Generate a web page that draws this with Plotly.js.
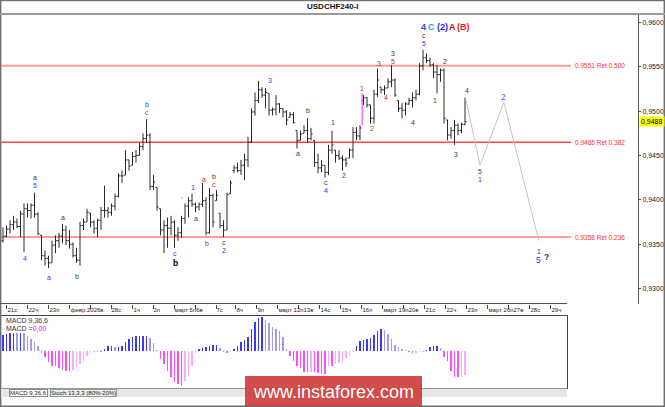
<!DOCTYPE html>
<html><head><meta charset="utf-8">
<script src="https://cdn.plot.ly/plotly-3.0.1.min.js"></script>
<style>html,body{margin:0;padding:0;background:#fff}#chart{width:665px;height:407px}</style>
</head><body><div id="chart"></div>
<script>
// ---------- DATA ----------
const opens=[0.9354,0.9359,0.9367,0.9372,0.9375,0.9370,0.9384,0.9390,0.9388,0.9394,
0.9384,0.9360,0.9337,0.9334,0.9329,0.9349,0.9354,0.9359,0.9366,0.9354,
0.9350,0.9337,0.9332,0.9371,0.9375,0.9385,0.9375,0.9368,0.9377,0.9388,
0.9388,0.9386,0.9393,0.9404,0.9427,0.9428,0.9445,0.9439,0.9449,0.9450,
0.9460,0.9469,0.9473,0.9415,0.9414,0.9390,0.9366,0.9371,0.9368,0.9375,
0.9360,0.9363,0.9379,0.9393,0.9399,0.9395,0.9392,0.9395,0.9399,0.9363,
0.9405,0.9399,0.9385,0.9371,0.9366,0.9407,0.9433,0.9436,0.9433,0.9439,
0.9445,0.9465,0.9499,0.9512,0.9524,0.9518,0.9520,0.9501,0.9502,0.9508,
0.9503,0.9499,0.9493,0.9496,0.9478,0.9467,0.9475,0.9478,0.9469,0.9467,
0.9442,0.9436,0.9439,0.9431,0.9456,0.9456,0.9450,0.9447,0.9445,0.9447,
0.9456,0.9476,0.9472,0.9512,0.9515,0.9507,0.9492,0.9519,0.9527,0.9524,
0.9526,0.9533,0.9535,0.9512,0.9503,0.9501,0.9508,0.9512,0.9515,0.9519,
0.9551,0.9560,0.9557,0.9552,0.9544,0.9541,0.9546,0.9490,0.9473,0.9478,
0.9484,0.9478,0.9485];
const highs=[0.9369,0.9371,0.9377,0.9382,0.9379,0.9388,0.9396,0.9396,0.9396,0.9408,
0.9386,0.9360,0.9343,0.9337,0.9354,0.9360,0.9363,0.9373,0.9371,0.9366,
0.9352,0.9346,0.9375,0.9379,0.9390,0.9385,0.9377,0.9379,0.9392,0.9416,
0.9392,0.9396,0.9407,0.9430,0.9433,0.9456,0.9445,0.9454,0.9456,0.9464,
0.9475,0.9491,0.9475,0.9428,0.9414,0.9390,0.9377,0.9380,0.9382,0.9377,
0.9369,0.9382,0.9396,0.9403,0.9407,0.9397,0.9397,0.9419,0.9403,0.9413,
0.9407,0.9411,0.9385,0.9377,0.9408,0.9422,0.9439,0.9442,0.9445,0.9452,
0.9471,0.9503,0.9521,0.9534,0.9527,0.9526,0.9520,0.9504,0.9518,0.9509,
0.9503,0.9501,0.9499,0.9499,0.9478,0.9478,0.9484,0.9492,0.9481,0.9467,
0.9452,0.9445,0.9439,0.9462,0.9478,0.9456,0.9456,0.9450,0.9448,0.9458,
0.9482,0.9482,0.9484,0.9518,0.9516,0.9507,0.9524,0.9548,0.9527,0.9529,
0.9537,0.9552,0.9537,0.9512,0.9509,0.9510,0.9515,0.9521,0.9524,0.9554,
0.9569,0.9565,0.9560,0.9554,0.9552,0.9548,0.9548,0.9490,0.9482,0.9490,
0.9486,0.9487,0.9515];
const lows=[0.9352,0.9358,0.9362,0.9366,0.9368,0.9358,0.9341,0.9380,0.9379,0.9380,
0.9360,0.9332,0.9326,0.9323,0.9329,0.9340,0.9346,0.9351,0.9349,0.9345,
0.9335,0.9329,0.9326,0.9366,0.9375,0.9369,0.9362,0.9358,0.9366,0.9380,
0.9380,0.9382,0.9388,0.9403,0.9419,0.9428,0.9433,0.9439,0.9442,0.9450,
0.9456,0.9464,0.9411,0.9411,0.9388,0.9360,0.9340,0.9346,0.9360,0.9346,
0.9354,0.9357,0.9373,0.9380,0.9392,0.9386,0.9388,0.9392,0.9360,0.9362,
0.9369,0.9399,0.9368,0.9358,0.9366,0.9407,0.9430,0.9431,0.9428,0.9422,
0.9437,0.9464,0.9495,0.9509,0.9515,0.9503,0.9495,0.9495,0.9495,0.9498,
0.9493,0.9484,0.9493,0.9486,0.9458,0.9467,0.9475,0.9464,0.9467,0.9437,
0.9430,0.9431,0.9425,0.9428,0.9452,0.9442,0.9445,0.9433,0.9437,0.9447,
0.9447,0.9467,0.9467,0.9507,0.9504,0.9486,0.9486,0.9516,0.9520,0.9518,
0.9526,0.9527,0.9516,0.9499,0.9492,0.9495,0.9507,0.9504,0.9512,0.9518,
0.9546,0.9554,0.9550,0.9537,0.9520,0.9533,0.9486,0.9467,0.9469,0.9462,
0.9473,0.9475,0.9484];
const closes=[0.9359,0.9367,0.9372,0.9375,0.9370,0.9384,0.9390,0.9388,0.9394,0.9384,
0.9362,0.9337,0.9334,0.9329,0.9349,0.9354,0.9359,0.9366,0.9354,0.9350,
0.9337,0.9332,0.9371,0.9375,0.9386,0.9375,0.9368,0.9377,0.9388,0.9388,
0.9386,0.9393,0.9404,0.9427,0.9427,0.9445,0.9438,0.9449,0.9450,0.9460,
0.9469,0.9473,0.9415,0.9420,0.9392,0.9366,0.9371,0.9368,0.9375,0.9360,
0.9363,0.9379,0.9393,0.9399,0.9395,0.9392,0.9395,0.9399,0.9363,0.9405,
0.9375,0.9405,0.9371,0.9366,0.9406,0.9419,0.9436,0.9433,0.9439,0.9445,
0.9465,0.9499,0.9512,0.9524,0.9518,0.9521,0.9501,0.9502,0.9508,0.9503,
0.9499,0.9490,0.9496,0.9487,0.9467,0.9474,0.9478,0.9469,0.9474,0.9442,
0.9436,0.9439,0.9431,0.9456,0.9462,0.9450,0.9447,0.9445,0.9441,0.9456,
0.9476,0.9472,0.9481,0.9515,0.9507,0.9492,0.9519,0.9535,0.9524,0.9526,
0.9533,0.9535,0.9518,0.9503,0.9501,0.9508,0.9512,0.9515,0.9519,0.9551,
0.9560,0.9557,0.9552,0.9544,0.9541,0.9546,0.9492,0.9473,0.9478,0.9484,
0.9478,0.9485,0.9488];
const macdHist=[0.00048,0.00051,0.00054,0.00054,0.00053,0.00054,0.00053,0.00045,0.00035,0.00025,
0.00015,-0.00006,-0.00020,-0.00035,-0.00045,-0.00047,-0.00053,-0.00057,-0.00060,-0.00060,
-0.00057,-0.00050,-0.00040,-0.00030,-0.00017,-0.00007,-0.00003,-0.00005,-0.00005,0.00005,
0.00013,0.00013,0.00010,0.00010,0.00013,0.00025,0.00035,0.00042,0.00043,0.00043,
0.00044,0.00045,0.00037,0.00022,0.00002,-0.00025,-0.00040,-0.00060,-0.00080,-0.00093,
-0.00100,-0.00105,-0.00090,-0.00075,-0.00045,-0.00007,0.00005,0.00009,0.00012,0.00014,
0.00017,0.00017,0.00007,-0.00003,-0.00007,-0.00003,0.00005,0.00015,0.00027,0.00032,
0.00040,0.00065,0.00087,0.00099,0.00100,0.00093,0.00083,0.00070,0.00065,0.00058,
0.00040,0.00005,-0.00015,-0.00030,-0.00045,-0.00053,-0.00063,-0.00065,-0.00063,-0.00063,
-0.00067,-0.00070,-0.00070,-0.00047,-0.00047,-0.00040,-0.00038,-0.00033,-0.00023,-0.00015,
-0.00003,0.00015,0.00028,0.00033,0.00035,0.00037,0.00047,0.00060,0.00065,0.00061,
0.00050,0.00035,0.00017,0.00010,0.00005,0.00002,-0.00005,-0.00007,-0.00006,-0.00005,
-0.00003,0.00003,0.00010,0.00013,0.00013,0.00007,-0.00020,-0.00030,-0.00060,-0.00078,
-0.00080,-0.00078,-0.00072];
const dayTickIdx=[1.14,7.14,13.14,19.14,24.86,30.86,37.14,42.86,48.86,54.86,60.86,66.57,72.57,78.57,84.57,90.57,96.57,102.57,108.57,114.57,120.57,126.57,132.57,138.57,144.57,150.57,156.57];
const dayLabels=['21с','22ч','23п','февр.2026в','','28с','1ч','2п','март 5п6в','','7с','8ч','9п','март 12п13в','','14с','15ч','16п','март 19п20в','','21с','22ч','23п','март 26п27в','','28с','29ч'];
const priceTicks=[0.9300,0.9350,0.9400,0.9450,0.9500,0.9550,0.9600];
const priceTickText=['0,9300','0,9350','0,9400','0,9450','0,9500','0,9550','0,9600'];
const fibLevels=[0.9551,0.9465,0.9358];
const fibLabels=['0.9551 Ret 0.500','0.9465 Ret 0.382','0.9358 Ret 0.236'];
const forecastIdx=[132.3,136.3,143.1,153.1];
const forecastPrice=[0.9512,0.9439,0.9510,0.9354];
const markIdx=[102.6,102.6];
const markPrice=[0.9484,0.9520];
const lastPrice=0.9488;
const lastPriceText='0,9488';
const waveText=['b','c','3','b','a','5','4','a','a','b','1',"'",'a','a','b','c','b','c','2','c','b','a','c','4','1','2','1','2','3','4','3','5','4','c','5','2','1','4','3','2','5','1','1','5','?','4','C','(2)','A','(B)'];
const waveIdx=[41.1,41.1,76.3,87.1,9.1,9.1,6.3,13.1,17.1,21.1,54.3,51.1,55.1,57.4,60.3,60.3,58.3,63.1,63.1,49.1,49.4,84.3,92.3,92.3,94.3,97.4,102.6,105.4,107.4,109.4,111.4,111.4,117.1,120.3,120.3,126.3,123.4,132.6,129.4,143.1,136.3,136.3,153.1,153.1,155.4,120.1,122.4,125.5,128.5,131.6];
const wavePrice=[0.9507,0.9498,0.9534,0.9501,0.9425,0.9416,0.9334,0.9313,0.9380,0.9314,0.9414,0.9400,0.9379,0.9423,0.9426,0.9417,0.9351,0.9352,0.9343,0.9340,0.9329,0.9452,0.9420,0.9411,0.9487,0.9427,0.9526,0.9480,0.9554,0.9515,0.9565,0.9556,0.9487,0.9585,0.9576,0.9556,0.9512,0.9523,0.9451,0.9516,0.9432,0.9423,0.9342,0.9332,0.9336,0.9595,0.9595,0.9595,0.9595,0.9595];

// ---------- STYLE ----------
const BLUE='#3434ff', DARK='#3a3a3a', BROWN='#a8392a', GREY='#6a6a6a';
const waveColor=[BLUE,GREY,BLUE,DARK,DARK,BLUE,BLUE,BLUE,DARK,DARK,BLUE,BLUE,DARK,BROWN,DARK,BROWN,BROWN,DARK,BLUE,BLUE,'#000',DARK,DARK,BLUE,DARK,DARK,BROWN,BROWN,BROWN,BROWN,DARK,BROWN,DARK,DARK,BLUE,DARK,DARK,DARK,DARK,'#5c5cff',DARK,BLUE,DARK,BLUE,DARK,'#3434ff','#1aa8e0','#2626ff','#a02020','#e02828'];
const waveSize=waveText.map((t,k)=> k>=45 ? 9 : (k===20||k===39||k===43||k===44 ? 8.5 : 7));
const waveBold=waveText.map((t,k)=> k>=45 || k===20 || k===44);

const W=665,H=407;
const px=x=>x/W, py=y=>1-y/H;
const FONT='Liberation Sans, Arial, sans-serif';
const barIdx=opens.map((_,k)=>k);
const macdIdx=macdHist.map((_,k)=>k);
const macdColors=macdHist.map((v,k)=>{
  const p=k>0?macdHist[k-1]:v;
  if(v>=0) return v>=p ? '#3a3aff' : '#9c9cf0';
  return v<=p ? '#ff4cff' : '#ffa8ff';
});

const traces=[
 {type:'ohlc',x:barIdx,open:opens,high:highs,low:lows,close:closes,xaxis:'x',yaxis:'y',
  increasing:{line:{color:'#2a2a2a',width:1}},decreasing:{line:{color:'#2a2a2a',width:1}},
  tickwidth:0.45,hoverinfo:'skip',showlegend:false},
 {type:'scatter',mode:'lines',x:forecastIdx,y:forecastPrice,xaxis:'x',yaxis:'y',
  line:{color:'#c4c4c4',width:1},hoverinfo:'skip',showlegend:false},
 {type:'scatter',mode:'lines',x:markIdx,y:markPrice,xaxis:'x',yaxis:'y',
  line:{color:'#ff22ff',width:1},hoverinfo:'skip',showlegend:false},
 {type:'bar',x:macdIdx,y:macdHist,xaxis:'x2',yaxis:'y2',width:0.32,
  marker:{color:macdColors,line:{width:0}},hoverinfo:'skip',showlegend:false}
];

const shapes=[
 {type:'rect',xref:'paper',yref:'paper',x0:0.001,x1:0.999,y0:0.002,y1:0.999,line:{color:'#707070',width:1.5}},
 {type:'line',xref:'paper',yref:'paper',x0:0,x1:1,y0:py(14),y1:py(14),line:{color:'#9a9a9a',width:2}},
 {type:'line',xref:'paper',yref:'paper',x0:0,x1:px(567),y0:py(303.5),y1:py(303.5),line:{color:'#555',width:1}},
 {type:'rect',xref:'paper',yref:'paper',x0:px(1),x1:px(567),y0:py(397),y1:py(388.5),fillcolor:'#e6e6e6',line:{width:0}},
 {type:'rect',xref:'paper',yref:'paper',x0:px(245),x1:px(422),y0:py(406),y1:py(376),fillcolor:'rgba(206,58,58,0.9)',line:{width:0}}
];
const fibColors=['#ff9c9c','#ff4646','#ff9c9c'];
const fibWidths=[2,1.5,2];
fibLevels.forEach((lv,k)=>shapes.push({type:'line',xref:'paper',yref:'y',x0:0,x1:px(571),y0:lv,y1:lv,line:{color:fibColors[k],width:fibWidths[k]},layer:'below'}));

const annotations=[
 {text:'<b>USDCHF240-I</b>',xref:'paper',yref:'paper',x:0.5,y:py(6.5),showarrow:false,font:{family:FONT,size:8,color:'#111'},xanchor:'center',yanchor:'middle'},
 {text:lastPriceText,xref:'paper',yref:'y',x:px(638.5),y:lastPrice,showarrow:false,xanchor:'left',yanchor:'middle',bgcolor:'#ffff00',borderpad:1,font:{family:FONT,size:7,color:'#000'}},
 {text:'MACD 9,36,6',xref:'paper',yref:'paper',x:px(4),y:py(320.5),showarrow:false,xanchor:'left',yanchor:'middle',font:{family:FONT,size:7,color:'#333'}},
 {text:'MACD =<span style="color:#ff00ff">0,00</span>',xref:'paper',yref:'paper',x:px(4),y:py(328.5),showarrow:false,xanchor:'left',yanchor:'middle',font:{family:FONT,size:7,color:'#333'}},
 {text:'MACD 9,36,6',xref:'paper',yref:'paper',x:px(9),y:py(393),showarrow:false,xanchor:'left',yanchor:'middle',bgcolor:'#fff',bordercolor:'#888',borderwidth:1,borderpad:0,font:{family:FONT,size:6,color:'#222'}},
 {text:'Stoch 13,3,3 (80%-20%)',xref:'paper',yref:'paper',x:px(50),y:py(393),showarrow:false,xanchor:'left',yanchor:'middle',bgcolor:'#ececec',bordercolor:'#999',borderwidth:1,borderpad:0,font:{family:FONT,size:6,color:'#222'}},
 {text:'www.instaforex.com',xref:'paper',yref:'paper',x:px(333),y:py(391.5),showarrow:false,xanchor:'center',yanchor:'middle',font:{family:FONT,size:18,color:'#ffffff'}}
];
fibLevels.forEach((lv,k)=>annotations.push({text:fibLabels[k],xref:'paper',yref:'y',x:px(573),y:lv,showarrow:false,xanchor:'left',yanchor:'middle',font:{family:FONT,size:6.5,color:'#ff3030'}}));
waveText.forEach((t,k)=>annotations.push({text:waveBold[k]?'<b>'+t+'</b>':t,xref:'x',yref:'y',x:waveIdx[k],y:wavePrice[k],showarrow:false,xanchor:'center',yanchor:'middle',borderpad:0,font:{family:FONT,size:waveSize[k],color:waveColor[k]}}));

const layout={
 width:W,height:H,margin:{l:0,r:0,t:0,b:0},paper_bgcolor:'#fff',plot_bgcolor:'rgba(0,0,0,0)',
 showlegend:false,
 xaxis:{domain:[0,px(638)],range:[-0.857,181.43],anchor:'y',showgrid:false,zeroline:false,showline:false,
  rangeslider:{visible:false},tickmode:'array',tickvals:dayTickIdx,ticktext:dayLabels,ticks:'outside',ticklen:4,tickcolor:'#444',
  tickangle:0,ticklabelposition:'outside right',tickfont:{family:FONT,size:6,color:'#222'},fixedrange:true},
 yaxis:{domain:[py(303.5),py(14)],range:[0.92832,0.96094],anchor:'x',side:'right',showgrid:false,zeroline:false,
  showline:true,linecolor:'#555',linewidth:1,ticks:'outside',ticklen:2,tickcolor:'#555',tickmode:'array',
  tickvals:priceTicks,ticktext:priceTickText,tickfont:{family:FONT,size:7,color:'#222'},fixedrange:true},
 xaxis2:{domain:[0,px(567)],range:[-0.857,161.14],anchor:'y2',showgrid:false,zeroline:false,showticklabels:false,
  ticks:'',showline:true,mirror:true,linecolor:'#444',linewidth:1,fixedrange:true},
 yaxis2:{domain:[py(387.5),py(315.5)],range:[-0.00111,0.00105],anchor:'x2',showgrid:false,zeroline:false,showticklabels:false,
  ticks:'',showline:true,mirror:true,linecolor:'#444',linewidth:1,fixedrange:true},
 bargap:0,
 shapes:shapes,annotations:annotations
};
Plotly.newPlot('chart',traces,layout,{staticPlot:true,displayModeBar:false});
</script></body></html>
